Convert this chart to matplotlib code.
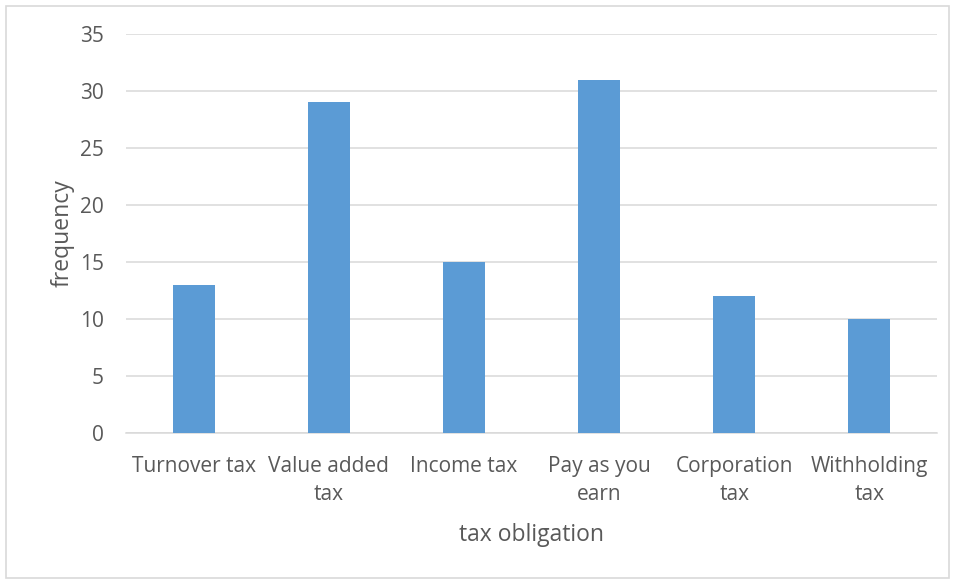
import matplotlib
matplotlib.use("Agg")
import matplotlib.pyplot as plt
from matplotlib.patches import Rectangle
import numpy as np

categories = ["Turnover tax", "Value added\ntax", "Income tax",
              "Pay as you\nearn", "Corporation\ntax", "Withholding\ntax"]
frequency = [13, 29, 15, 31, 12, 10]
yticks = [0, 5, 10, 15, 20, 25, 30, 35]

plt.rcParams["font.family"] = ["Open Sans", "DejaVu Sans"]
text_color = "#595959"
grid_color = "#D9D9D9"

fig = plt.figure(figsize=(9.55, 5.81), dpi=100)
ax = fig.add_axes([0.132, 0.2547, 0.849, 0.6868])

x = np.arange(len(categories))
ax.bar(x, frequency, width=0.31, color="#5B9BD5", zorder=3)

ax.set_xlim(-0.5, len(categories) - 0.5)
ax.set_ylim(0, 35)
ax.set_yticks(yticks)
ax.set_xticks(x)
ax.set_xticklabels(categories, fontsize=15, color=text_color, linespacing=1.42)
ax.tick_params(axis="y", labelsize=15, labelcolor=text_color, length=0, pad=16)
ax.tick_params(axis="x", length=0, pad=16.5)
ax.grid(axis="y", color=grid_color, linewidth=1.1, zorder=0)
for side in ["top", "right", "left"]:
    ax.spines[side].set_visible(False)
ax.spines["bottom"].set_color(grid_color)
ax.spines["bottom"].set_linewidth(1.1)

ax.set_xlabel("tax obligation", fontsize=16.5, color=text_color, labelpad=13)
ax.set_ylabel("frequency", fontsize=16.5, color=text_color, labelpad=4)

# chart border
fig.patches.append(Rectangle((0.006, 0.005), 0.988, 0.985, transform=fig.transFigure,
                             fill=False, edgecolor=grid_color, linewidth=1.2))

fig.savefig("out.png", dpi=100)
